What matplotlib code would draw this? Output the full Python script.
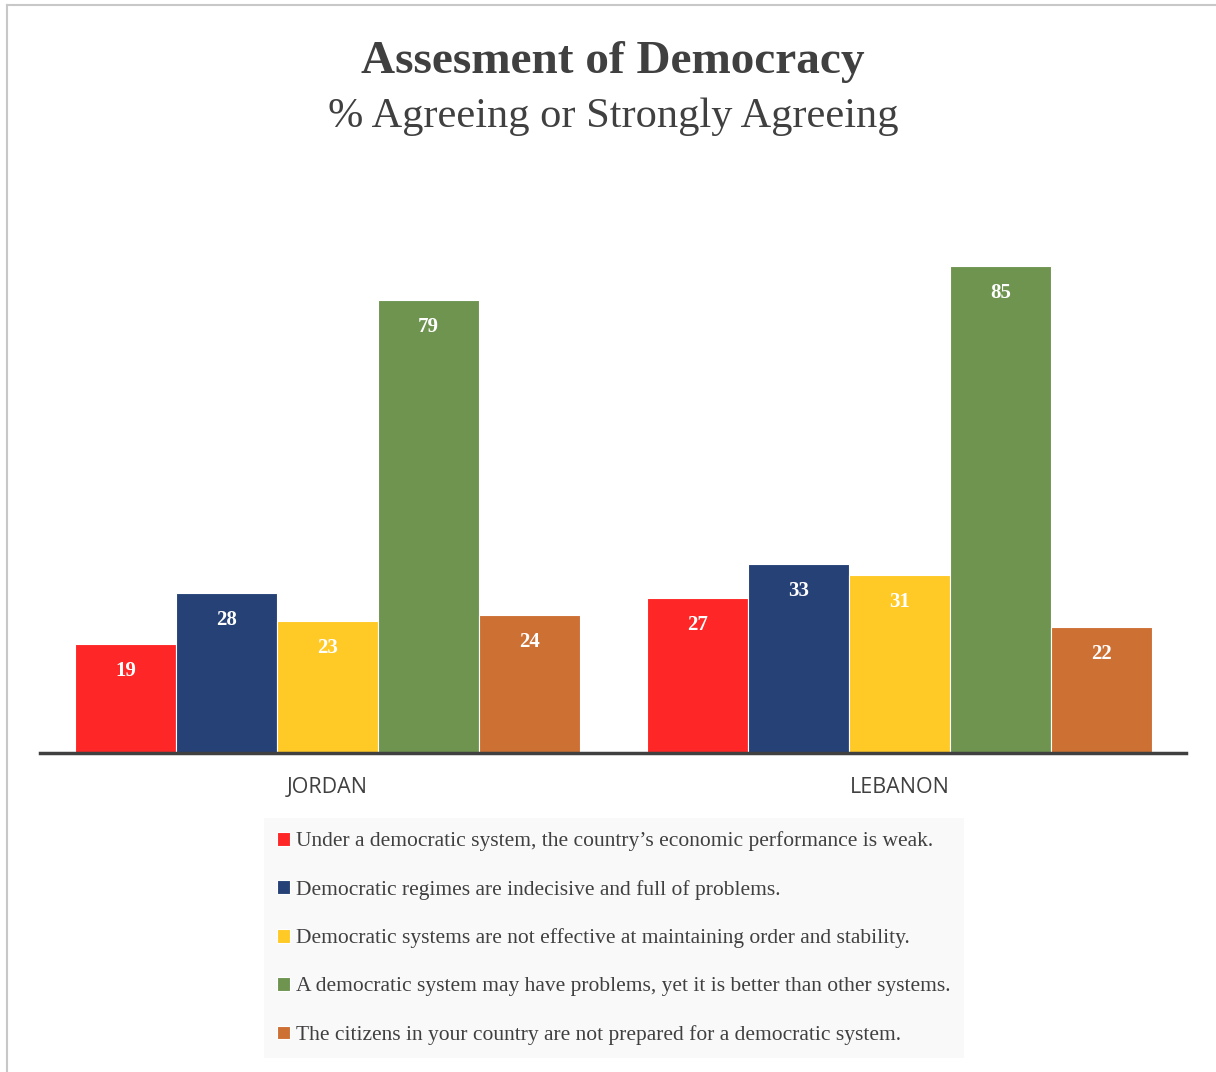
import matplotlib.pyplot as plt
from matplotlib.lines import Line2D
import numpy as np

# data
countries = ["JORDAN", "LEBANON"]
statements = [
    "Under a democratic system, the country\u2019s economic performance is weak.",
    "Democratic regimes are indecisive and full of problems.",
    "Democratic systems are not effective at maintaining order and stability.",
    "A democratic system may have problems, yet it is better than other systems.",
    "The citizens in your country are not prepared for a democratic system.",
]
values = [
    [19, 27],
    [28, 33],
    [23, 31],
    [79, 85],
    [24, 22],
]
colors = ["#FE2626", "#254176", "#FFC926", "#6E9450", "#CD7033"]

serif = "Liberation Serif"
txt_color = "#404040"

fig = plt.figure(figsize=(12.16, 10.72), dpi=100)
ax = fig.add_axes([0.0329, 0.2976, 0.9424, 0.5345])

x = np.arange(len(countries))
w = 0.1766
bars = []
for i, (vals, c) in enumerate(zip(values, colors)):
    pos = x + (i - 2) * w
    b = ax.bar(pos, vals, width=w, color=c, edgecolor="white", linewidth=0.8,
               label=statements[i], zorder=2)
    bars.append(b)
    # value labels inside the top of each bar
    for px, v in zip(pos, vals):
        ax.annotate(str(v), (px, v), xytext=(0, -27), textcoords="offset pixels",
                    ha="center", va="center", color="white", fontsize=15,
                    fontweight="bold", family=serif)

ax.set_xlim(-0.5026, 1.5009)
ax.set_ylim(0, 100)
ax.set_xticks(x)
ax.set_xticklabels(countries, fontsize=15.5, color=txt_color, family="Open Sans")
ax.tick_params(axis="x", length=0, pad=17)
ax.set_yticks([])
for s in ["top", "right", "left"]:
    ax.spines[s].set_visible(False)
ax.spines["bottom"].set_color("#404040")
ax.spines["bottom"].set_linewidth(2.5)
ax.spines["bottom"].set_zorder(3)

fig.text(0.504, 0.942, "Assesment of Democracy", ha="center", va="center",
         fontsize=34, fontweight="bold", family=serif, color=txt_color)
fig.text(0.504, 0.891, "% Agreeing or Strongly Agreeing", ha="center", va="center",
         fontsize=30.5, family=serif, color=txt_color)

leg = fig.legend(handles=bars, labels=statements, loc="upper center",
                 bbox_to_anchor=(614 / 1216, 1 - 818 / 1072), ncol=1, borderaxespad=0,
                 frameon=True, facecolor="#F8F8F8", edgecolor="none", fancybox=False,
                 prop={"family": serif, "size": 15.5}, handlelength=0.6, handleheight=0.6,
                 handletextpad=0.3, labelspacing=1.33, borderpad=0.62)
for t in leg.get_texts():
    t.set_color(txt_color)

# outer border (left + top)
fig.add_artist(Line2D([0.0058, 0.0058], [0, 0.9953], transform=fig.transFigure, color="#C8C8C8", lw=1.5))
fig.add_artist(Line2D([0.0058, 1], [0.9953, 0.9953], transform=fig.transFigure, color="#C8C8C8", lw=1.5))

fig.savefig("out.png", dpi=100)
